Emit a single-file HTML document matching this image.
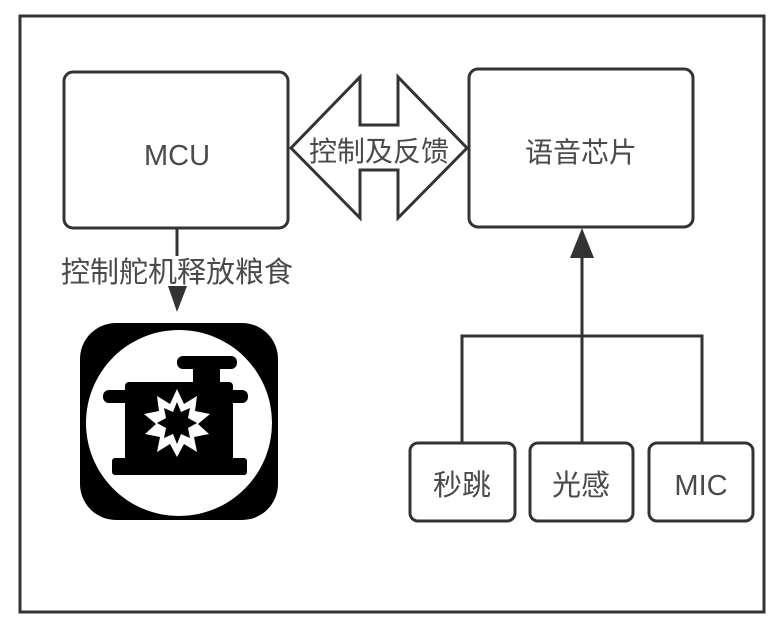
<!DOCTYPE html>
<html><head><meta charset="utf-8"><style>
body{margin:0;background:#fff;}
svg{display:block}
text{font-family:"Liberation Sans","Noto Sans CJK SC",sans-serif;fill:#4a4a4a;}
</style></head><body>
<svg width="780" height="629" viewBox="0 0 780 629" xmlns="http://www.w3.org/2000/svg">
<rect x="20" y="16" width="744" height="596" fill="#fff" stroke="#333" stroke-width="3"/>
<rect x="64" y="72" width="224" height="156" rx="9" fill="#fff" stroke="#333" stroke-width="3"/>
<text x="177" y="165" font-size="29" text-anchor="middle">MCU</text>
<rect x="469" y="69" width="224" height="158" rx="9" fill="#fff" stroke="#333" stroke-width="3"/>
<text x="581" y="162" font-size="28" text-anchor="middle">语音芯片</text>
<polygon points="291,148 360,77 360,125 398,125 398,77 467,148 398,218 398,170 360,170 360,218" fill="#fff" stroke="#333" stroke-width="3" stroke-linejoin="miter"/>
<text x="379" y="161" font-size="28" text-anchor="middle">控制及反馈</text>
<line x1="177" y1="228" x2="177" y2="290" stroke="#333" stroke-width="3"/>
<polygon points="168,286 187,286 177,312" fill="#333"/>
<rect x="58" y="256" width="238" height="30" fill="#fff"/>
<text x="177" y="282" font-size="29" text-anchor="middle">控制舵机释放粮食</text>
<!-- icon -->
<rect x="80" y="323" width="198" height="197" rx="36" fill="#000"/>
<circle cx="179" cy="423" r="93" fill="#fff"/>
<rect x="177" y="356" width="60" height="13" rx="6" fill="#000"/>
<rect x="193" y="366" width="27" height="20" fill="#000"/>
<rect x="125" y="382" width="108" height="90" rx="4" fill="#000"/>
<rect x="103" y="390" width="30" height="13" rx="6" fill="#000"/>
<rect x="226" y="390" width="22" height="13" rx="6" fill="#000"/>
<rect x="112" y="458" width="135" height="17" rx="3" fill="#000"/>
<polygon fill="#fff" points="177,389 184,404 197,396 195,411 210,414 198,424 209,434 194,437 197,452 184,444 177,457 170,444 157,452 160,437 145,434 156,424 144,414 159,411 157,396 170,404"/>
<polygon fill="#000" points="177,402 181,412 190,408 188,418 197,423 188,428 190,438 181,434 177,444 173,434 164,438 166,428 157,423 166,418 164,408 173,412"/>
<!-- connectors -->
<line x1="582" y1="250" x2="582" y2="443" stroke="#333" stroke-width="3"/>
<polygon points="582,228 570,258 594,258" fill="#333"/>
<polyline points="462,443 462,336 702,336 702,443" fill="none" stroke="#333" stroke-width="3"/>
<rect x="410" y="443" width="105" height="78" rx="8" fill="#fff" stroke="#333" stroke-width="3"/>
<text x="462" y="495" font-size="29" text-anchor="middle">秒跳</text>
<rect x="530" y="443" width="103" height="78" rx="8" fill="#fff" stroke="#333" stroke-width="3"/>
<text x="581" y="495" font-size="29" text-anchor="middle">光感</text>
<rect x="649" y="443" width="104" height="78" rx="8" fill="#fff" stroke="#333" stroke-width="3"/>
<text x="701" y="495" font-size="29" text-anchor="middle">MIC</text>
</svg>
</body></html>
